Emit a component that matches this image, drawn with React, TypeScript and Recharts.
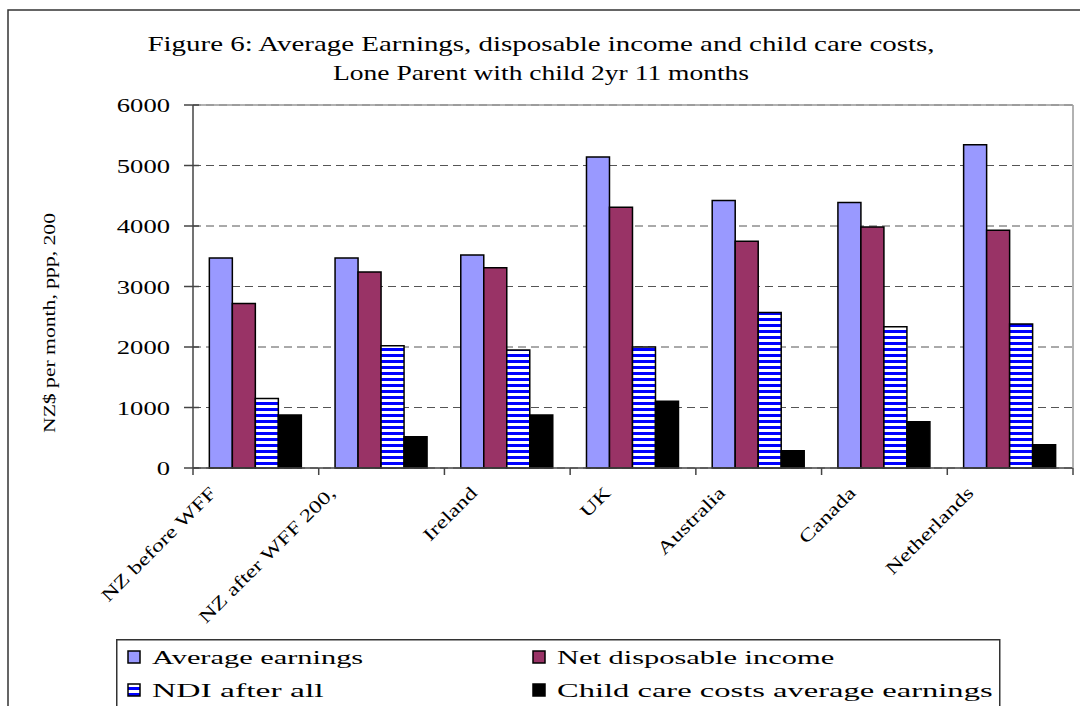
import React from 'react';
import { BarChart, Bar, XAxis, YAxis, CartesianGrid, ReferenceLine } from 'recharts';

const categories = ['NZ before WFF', 'NZ after WFF 200,', 'Ireland', 'UK', 'Australia', 'Canada', 'Netherlands'];
const averageEarnings = [3470, 3470, 3520, 5140, 4420, 4390, 5345];
const netDisposableIncome = [2720, 3240, 3310, 4310, 3750, 3985, 3930];
const ndiAfterAll = [1150, 2020, 1950, 2000, 2570, 2335, 2380];
const childCareCosts = [875, 515, 875, 1105, 285, 765, 385];
const yTicks = [0, 1000, 2000, 3000, 4000, 5000, 6000];

const titleLines = [
  'Figure 6: Average Earnings, disposable income and child care costs,',
  'Lone Parent with child 2yr 11 months',
];
const yLabel = 'NZ$ per month, ppp, 200';

const series = [
  { key: 'avg', name: 'Average earnings', fill: '#9999FF' },
  { key: 'net', name: 'Net disposable income', fill: '#993366' },
  { key: 'ndi', name: 'NDI after all', fill: 'url(#ndiStripes)' },
  { key: 'care', name: 'Child care costs average earnings', fill: '#000000' },
];

const data = categories.map((name, i) => ({
  name,
  avg: averageEarnings[i],
  net: netDisposableIncome[i],
  ndi: ndiAfterAll[i],
  care: childCareCosts[i],
}));

const W = 1080;
const H = 706;
const PLOT_LEFT = 193;
const PLOT_RIGHT = 1073;
const PLOT_TOP = 105;
const PLOT_BOTTOM = 468;
const FONT = 'Liberation Serif, Tinos, Times New Roman, Times, serif';

const XTick = (props: any) => {
  const { x, y, payload, index } = props;
  const band = (PLOT_RIGHT - PLOT_LEFT) / categories.length;
  const label = String(payload.value);
  const shift = 18 + 1.6 * label.length;
  return (
    <g>
      <line x1={x - band / 2} x2={x - band / 2} y1={y} y2={y + 7} stroke="#444" strokeWidth={1.5} />
      {index === categories.length - 1 && (
        <line x1={x + band / 2} x2={x + band / 2} y1={y} y2={y + 7} stroke="#444" strokeWidth={1.5} />
      )}
      <text
        transform={`translate(${x - shift},${y + 26}) rotate(-45) scale(1.33,1)`}
        textAnchor="end"
        fontSize={18}
        style={{ fontFamily: FONT }}
        fill="#000"
      >
        {label}
      </text>
    </g>
  );
};

const YTick = (props: any) => {
  const { x, y, payload } = props;
  return (
    <g>
      <line x1={x - 9} x2={x + 6} y1={y} y2={y} stroke="#444" strokeWidth={1.5} />
      <text
        transform={`translate(${x - 23},${y + 7}) scale(1.4,1)`}
        textAnchor="end"
        fontSize={19}
        style={{ fontFamily: FONT }}
        fill="#000"
      >
        {payload.value}
      </text>
    </g>
  );
};

const Overlay = () => (
  <svg
    width={W}
    height={H}
    style={{ position: 'absolute', left: 0, top: 0, pointerEvents: 'none', fontFamily: FONT }}
  >
    <rect x={8} y={10} width={1200} height={900} fill="none" stroke="#333" strokeWidth={1.5} />
    <text x={541} y={51} textAnchor="middle" fontSize={21} textLength={787} lengthAdjust="spacingAndGlyphs">
      {titleLines[0]}
    </text>
    <text x={541} y={80} textAnchor="middle" fontSize={21} textLength={416} lengthAdjust="spacingAndGlyphs">
      {titleLines[1]}
    </text>
    <text
      transform="translate(55,323) rotate(-90)"
      textAnchor="middle"
      fontSize={16}
      textLength={220}
      lengthAdjust="spacingAndGlyphs"
    >
      {yLabel}
    </text>
  </svg>
);

const LegendBox = () => (
  <svg
    width={900}
    height={90}
    style={{ position: 'absolute', left: 116, top: 639, fontFamily: FONT }}
  >
    <rect x={0.75} y={0.75} width={883} height={120} fill="#fff" stroke="#333" strokeWidth={1.5} />
    {series.map((s, i) => {
      const col = i % 2;
      const row = Math.floor(i / 2);
      const sx = col === 0 ? 12 : 417;
      const cy = row === 0 ? 18 : 51;
      return (
        <g key={s.key}>
          <rect x={sx} y={cy - 6} width={12} height={12} fill={s.fill} stroke="#000" strokeWidth={1.5} />
          <text
            x={sx + 24}
            y={cy + 7}
            fontSize={19}
            textLength={s.name.length * 13.2}
            lengthAdjust="spacingAndGlyphs"
          >
            {s.name}
          </text>
        </g>
      );
    })}
  </svg>
);

export default function App() {
  return (
    <div style={{ position: 'fixed', left: 0, top: 0, width: W, height: H, overflow: 'hidden', background: '#fff' }}>
      <BarChart
        width={W}
        height={H}
        data={data}
        margin={{ top: PLOT_TOP, right: W - PLOT_RIGHT - 1, bottom: H - PLOT_BOTTOM - 30, left: PLOT_LEFT - 80 }}
        barCategoryGap="13%"
        barGap={0}
      >
        <defs>
          <pattern id="ndiStripes" patternUnits="userSpaceOnUse" width={6} height={6}>
            <rect x={0} y={0} width={6} height={6} fill="#ffffff" />
            <rect x={0} y={0} width={6} height={3} fill="#0000FF" />
          </pattern>
        </defs>
        <CartesianGrid vertical={false} stroke="#555" strokeDasharray="8 5" />
        <ReferenceLine y={6000} stroke="#999" strokeWidth={1.5} />
        <XAxis
          dataKey="name"
          interval={0}
          height={30}
          tickLine={false}
          tickSize={0}
          tickMargin={0}
          axisLine={{ stroke: '#444', strokeWidth: 1.5 }}
          tick={<XTick />}
        />
        <YAxis
          width={80}
          domain={[0, 6000]}
          ticks={yTicks}
          interval={0}
          tickLine={false}
          tickSize={0}
          tickMargin={0}
          axisLine={{ stroke: '#444', strokeWidth: 1.5 }}
          tick={<YTick />}
        />
        <YAxis
          yAxisId="right"
          orientation="right"
          width={1}
          domain={[0, 6000]}
          tick={false}
          tickLine={false}
          axisLine={{ stroke: '#999', strokeWidth: 1.5 }}
        />
        {series.map((s) => (
          <Bar
            key={s.key}
            dataKey={s.key}
            name={s.name}
            fill={s.fill}
            stroke="#000"
            strokeWidth={1.5}
            isAnimationActive={false}
          />
        ))}
      </BarChart>
      <Overlay />
      <LegendBox />
    </div>
  );
}
